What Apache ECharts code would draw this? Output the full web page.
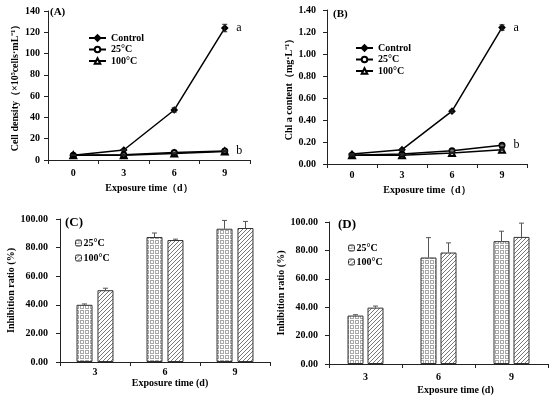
<!DOCTYPE html>
<html>
<head>
<meta charset="utf-8">
<script src="https://cdn.jsdelivr.net/npm/echarts@6/dist/echarts.min.js"></script>
<style>html,body{margin:0;padding:0;background:#fff;}#c{width:550px;height:399px;}</style>
</head>
<body>
<div id="c"></div>
<script>
// ---- data ----
const catLine = ['0', '3', '6', '9'];
const catBar = ['3', '6', '9'];
const lineNames = ['Control', '25°C', '100°C'];
const barNames = ['25°C', '100°C'];

const cellControl = [4.5, 9.4, 47, 124];
const cell25 = [4.5, 5, 7, 8.5];
const cell100 = [4.5, 4.5, 6, 8];
const cellControlErr = [0.3, 0.5, 2, 3.5];
const cell25Err = [0.3, 0.3, 0.4, 0.5];
const cell100Err = [0.3, 0.3, 0.4, 0.5];

const chlControl = [0.09, 0.13, 0.48, 1.24];
const chl25 = [0.08, 0.09, 0.12, 0.17];
const chl100 = [0.08, 0.08, 0.10, 0.13];
const chlControlErr = [0.005, 0.005, 0.01, 0.025];
const chl25Err = [0.005, 0.005, 0.01, 0.01];
const chl100Err = [0.005, 0.005, 0.005, 0.01];

const inhibC25 = [40, 87.4, 93.2];
const inhibC100 = [50.2, 85.3, 93.7];
const inhibC25Err = [0.6, 2.8, 5.8];
const inhibC100Err = [1.4, 0.6, 4.6];

const inhibD25 = [34.1, 75, 86.5];
const inhibD100 = [39.7, 78.5, 89.5];
const inhibD25Err = [0.6, 14, 7];
const inhibD100Err = [1.1, 6.8, 9.7];

// ---- styles ----
const FONT = 'Liberation Serif';
function makeGrid() {
  const c = document.createElement('canvas'); c.width = 5; c.height = 5;
  const g = c.getContext('2d');
  g.fillStyle = '#fff'; g.fillRect(0, 0, 5, 5);
  g.strokeStyle = '#a8a8a8'; g.lineWidth = 1;
  g.strokeRect(0.5, 0.5, 3, 3);
  return c;
}
function makeHatch() {
  const c = document.createElement('canvas'); c.width = 4; c.height = 4;
  const g = c.getContext('2d');
  g.fillStyle = '#fff'; g.fillRect(0, 0, 4, 4);
  g.strokeStyle = '#777'; g.lineWidth = 1;
  g.beginPath();
  g.moveTo(-1, 5); g.lineTo(5, -1);
  g.moveTo(-1, 1); g.lineTo(1, -1);
  g.moveTo(3, 5); g.lineTo(5, 3);
  g.stroke();
  return c;
}
const gridPat = { image: makeGrid(), repeat: 'repeat' };
const hatchPat = { image: makeHatch(), repeat: 'repeat' };

const axisLine = { show: true, lineStyle: { color: '#222', width: 1 } };
const lblStyle = { fontFamily: FONT, fontWeight: 'bold', fontSize: 10, color: '#000' };

function xCat(grid, data, margin, name, gap, pad) {
  return {
    type: 'category', gridIndex: grid, data: data, boundaryGap: true,
    axisLine: axisLine,
    axisTick: { show: true, inside: false, length: 4, alignWithLabel: false, lineStyle: { color: '#222' } },
    axisLabel: Object.assign({ margin: margin }, lblStyle),
    name: name, nameLocation: 'middle', nameGap: gap,
    nameTextStyle: Object.assign({ padding: pad || 0 }, lblStyle),
    splitLine: { show: false }
  };
}
function yVal(grid, max, interval, dec, margin, name, gap) {
  return {
    type: 'value', gridIndex: grid, min: 0, max: max, interval: interval,
    axisLine: axisLine,
    axisTick: { show: true, inside: false, length: 4, lineStyle: { color: '#222' } },
    axisLabel: Object.assign({ margin: margin, formatter: v => v.toFixed(dec) }, lblStyle),
    name: name, nameLocation: 'middle', nameGap: gap, nameRotate: 90,
    nameTextStyle: lblStyle,
    splitLine: { show: false }
  };
}

const symbols = ['diamond', 'emptyCircle', 'emptyTriangle'];
const symSizes = [6, 5, 6];

function lineSeries(panel, idx, vals, ax, letterIdx, letter) {
  return {
    type: 'line', name: panel + '|' + lineNames[idx], xAxisIndex: ax, yAxisIndex: ax,
    data: vals.map((v, i) => (i === vals.length - 1 && letter) ? {
      value: v, label: { show: true, formatter: letter, position: 'right', distance: 8,
        fontFamily: FONT, fontSize: 12, color: '#000' } } : v),
    symbol: symbols[idx], symbolSize: symSizes[idx],
    lineStyle: { color: '#000', width: 1.5 },
    itemStyle: { color: '#000', borderColor: '#000', borderWidth: 1.2 },
    z: 3 - idx
  };
}
function lineErr(vals, errs, ax) {
  return {
    type: 'custom', xAxisIndex: ax, yAxisIndex: ax, z: 5, silent: true,
    data: vals.map((v, i) => [i, v, errs[i]]),
    renderItem: function (params, api) {
      const x = api.value(0), y = api.value(1), e = api.value(2);
      const t = api.coord([x, y + e]), b = api.coord([x, y - e]);
      const w = 2.5;
      const st = { stroke: '#222', lineWidth: 1 };
      return { type: 'group', children: [
        { type: 'line', shape: { x1: t[0], y1: t[1], x2: b[0], y2: b[1] }, style: st },
        { type: 'line', shape: { x1: t[0] - w, y1: t[1], x2: t[0] + w, y2: t[1] }, style: st },
        { type: 'line', shape: { x1: b[0] - w, y1: b[1], x2: b[0] + w, y2: b[1] }, style: st }
      ] };
    }
  };
}
function barSeries(panel, idx, vals, ax, barW, gapPct) {
  return {
    type: 'bar', name: panel + '|' + barNames[idx], xAxisIndex: ax, yAxisIndex: ax,
    data: vals, barWidth: barW, barGap: gapPct,
    itemStyle: { color: idx === 0 ? gridPat : hatchPat, borderColor: '#333', borderWidth: 1 },
    z: 2
  };
}
function barErr(vals, errs, ax, offset) {
  return {
    type: 'custom', xAxisIndex: ax, yAxisIndex: ax, z: 5, silent: true,
    data: vals.map((v, i) => [i, v, errs[i]]),
    renderItem: function (params, api) {
      const x = api.value(0), y = api.value(1), e = api.value(2);
      const t = api.coord([x, y + e]), b = api.coord([x, y]);
      const cx = t[0] + offset, w = 2.5;
      const st = { stroke: '#555', lineWidth: 1 };
      return { type: 'group', children: [
        { type: 'line', shape: { x1: cx, y1: t[1], x2: cx, y2: b[1] }, style: st },
        { type: 'line', shape: { x1: cx - w, y1: t[1], x2: cx + w, y2: t[1] }, style: st }
      ] };
    }
  };
}

const legTxt = { fontFamily: FONT, fontWeight: 'bold', fontSize: 10, color: '#000' };
const legTxtBar = Object.assign({ padding: [0, 0, 0, -3] }, legTxt);
const fmt = n => n.split('|')[1];

const option = {
  animation: false,
  backgroundColor: '#fff',
  grid: [
    { left: 48, top: 11, width: 202, height: 149 },
    { left: 327, top: 10, width: 200, height: 154 },
    { left: 60, top: 219, width: 210, height: 143 },
    { left: 329, top: 222, width: 219, height: 142 }
  ],
  xAxis: [
    xCat(0, catLine, 8, 'Exposure time（d）', 23),
    xCat(1, catLine, 6, 'Exposure time（d）', 21),
    xCat(2, catBar, 5, 'Exposure time (d)', 16, [0, 0, 0, 10]),
    xCat(3, catBar, 8, 'Exposure time (d)', 21, [0, 0, 0, 34])
  ],
  yAxis: [
    yVal(0, 140, 20, 0, 8, 'Cell density（×10⁵cells·mL⁻¹）', 28),
    yVal(1, 1.4, 0.2, 2, 11, 'Chl a content（mg·L⁻¹）', 33),
    yVal(2, 100, 20, 2, 12, 'Inhibition ratio (%)', 42),
    yVal(3, 100, 20, 2, 11, 'Inhibition ratio (%)', 42)
  ],
  legend: [
    { orient: 'vertical', left: 88, top: 33, padding: 0, itemWidth: 17, itemHeight: 7, itemGap: 1.5,
      data: lineNames.map(n => 'A|' + n), formatter: fmt, textStyle: legTxt },
    { orient: 'vertical', left: 355, top: 43, padding: 0, itemWidth: 17, itemHeight: 7, itemGap: 1.5,
      data: lineNames.map(n => 'B|' + n), formatter: fmt, textStyle: legTxt },
    { orient: 'vertical', left: 75, top: 238, padding: 0, itemWidth: 6, itemHeight: 6, itemGap: 5, itemStyle: { borderColor: '#333', borderWidth: 1 },
      data: barNames.map(n => 'C|' + n), formatter: fmt, textStyle: legTxtBar },
    { orient: 'vertical', left: 348, top: 243, padding: 0, itemWidth: 6, itemHeight: 6, itemGap: 4, itemStyle: { borderColor: '#333', borderWidth: 1 },
      data: barNames.map(n => 'D|' + n), formatter: fmt, textStyle: legTxtBar }
  ],
  graphic: [
    { type: 'text', left: 50, top: 7, style: { text: '(A)', font: 'bold 11px "Liberation Serif"', fill: '#000' } },
    { type: 'text', left: 333, top: 9, style: { text: '(B)', font: 'bold 11px "Liberation Serif"', fill: '#000' } },
    { type: 'text', left: 65, top: 216, style: { text: '(C)', font: 'bold 13px "Liberation Serif"', fill: '#000' } },
    { type: 'text', left: 338, top: 218, style: { text: '(D)', font: 'bold 13px "Liberation Serif"', fill: '#000' } }
  ],
  series: [
    lineSeries('A', 0, cellControl, 0, 0, 'a'),
    lineSeries('A', 1, cell25, 0, 1, 'b'),
    lineSeries('A', 2, cell100, 0, 2, null),
    lineErr(cellControl, cellControlErr, 0),
    lineErr(cell25, cell25Err, 0),
    lineErr(cell100, cell100Err, 0),
    lineSeries('B', 0, chlControl, 1, 0, 'a'),
    lineSeries('B', 1, chl25, 1, 1, 'b'),
    lineSeries('B', 2, chl100, 1, 2, null),
    lineErr(chlControl, chlControlErr, 1),
    lineErr(chl25, chl25Err, 1),
    lineErr(chl100, chl100Err, 1),
    barSeries('C', 0, inhibC25, 2, 16, '31%'),
    barSeries('C', 1, inhibC100, 2, 16, '31%'),
    barErr(inhibC25, inhibC25Err, 2, -10.5),
    barErr(inhibC100, inhibC100Err, 2, 10.5),
    barSeries('D', 0, inhibD25, 3, 16, '25%'),
    barSeries('D', 1, inhibD100, 3, 16, '25%'),
    barErr(inhibD25, inhibD25Err, 3, -10),
    barErr(inhibD100, inhibD100Err, 3, 10)
  ]
};
const chart = echarts.init(document.getElementById('c'), null, { renderer: 'canvas' });
chart.setOption(option);
</script>
</body>
</html>
